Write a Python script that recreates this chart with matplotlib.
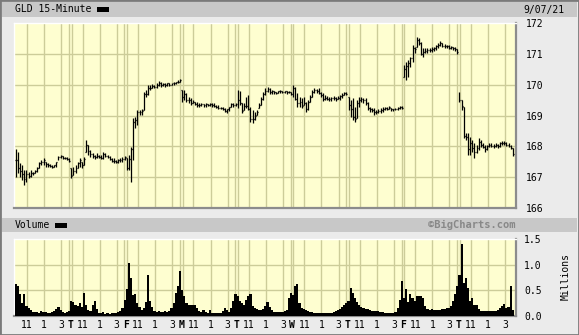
import numpy as np
import matplotlib.pyplot as plt
from matplotlib.patches import Rectangle

# 15-minute bars, 26 per session, Wed 8/25 .. Tue 9/07
high = [
    # Wed
    167.91, 167.83, 167.45, 167.40, 167.23, 167.23, 167.18, 167.23, 167.18, 167.23, 167.34, 167.50, 167.56,
    167.61, 167.50, 167.45, 167.43, 167.40, 167.40, 167.50, 167.69, 167.72, 167.69, 167.67, 167.64, 167.61,
    # Thu
    167.29, 167.34, 167.40, 167.50, 167.61, 167.50, 167.64, 168.21, 168.04, 167.88, 167.77, 167.72, 167.77,
    167.72, 167.72, 167.83, 167.77, 167.72, 167.69, 167.61, 167.61, 167.56, 167.58, 167.61, 167.64, 167.69,
    # Fri
    167.61, 167.72, 167.99, 168.91, 168.96, 169.18, 169.18, 169.20, 169.77, 169.83, 169.99, 169.99, 170.02,
    169.99, 170.04, 170.13, 170.10, 170.07, 170.07, 170.07, 170.04, 170.07, 170.10, 170.10, 170.15, 170.17,
    # Mon
    169.83, 169.83, 169.72, 169.61, 169.56, 169.50, 169.45, 169.45, 169.40, 169.40, 169.37, 169.40, 169.37,
    169.40, 169.42, 169.40, 169.34, 169.34, 169.29, 169.27, 169.23, 169.20, 169.29, 169.42, 169.40, 169.40,
    # Tue
    169.83, 169.81, 169.40, 169.40, 169.61, 169.67, 169.29, 169.18, 169.12, 169.18, 169.39, 169.61, 169.77,
    169.88, 169.94, 169.88, 169.83, 169.81, 169.77, 169.81, 169.83, 169.81, 169.81, 169.81, 169.80, 169.77,
    # Wed
    169.99, 169.94, 169.72, 169.61, 169.56, 169.61, 169.45, 169.50, 169.67, 169.83, 169.88, 169.85, 169.88,
    169.77, 169.72, 169.67, 169.63, 169.61, 169.61, 169.63, 169.61, 169.63, 169.67, 169.72, 169.77, 169.75,
    # Thu
    169.61, 169.50, 169.56, 169.29, 169.50, 169.61, 169.61, 169.56, 169.56, 169.45, 169.29, 169.23, 169.23,
    169.18, 169.20, 169.23, 169.29, 169.29, 169.27, 169.31, 169.23, 169.22, 169.25, 169.27, 169.31, 169.31,
    # Fri
    170.64, 170.75, 170.80, 170.91, 171.29, 171.23, 171.56, 171.50, 171.39, 171.18, 171.18, 171.18, 171.18,
    171.21, 171.23, 171.29, 171.34, 171.43, 171.34, 171.32, 171.29, 171.29, 171.25, 171.23, 171.23, 171.15,
    # Tue
    169.77, 169.50, 169.29, 168.42, 168.42, 168.31, 168.20, 168.10, 168.04, 168.26, 168.20, 168.10, 168.04,
    168.04, 168.10, 168.10, 168.08, 168.10, 168.08, 168.15, 168.18, 168.18, 168.15, 168.10, 168.04, 167.94,
]
low = [
    167.02, 167.13, 167.02, 166.91, 166.75, 166.85, 166.96, 167.02, 167.07, 167.13, 167.18, 167.29, 167.40,
    167.40, 167.34, 167.34, 167.32, 167.29, 167.32, 167.34, 167.56, 167.61, 167.58, 167.58, 167.56, 167.50,
    166.96, 167.07, 167.13, 167.29, 167.34, 167.29, 167.40, 167.83, 167.72, 167.67, 167.61, 167.58, 167.61,
    167.61, 167.58, 167.58, 167.64, 167.61, 167.56, 167.50, 167.47, 167.45, 167.45, 167.50, 167.50, 167.56,
    167.23, 167.23, 166.85, 167.56, 168.58, 168.69, 169.02, 169.02, 169.18, 169.61, 169.67, 169.83, 169.88,
    169.88, 169.88, 169.96, 169.94, 169.96, 169.94, 169.96, 169.96, 169.98, 169.99, 170.02, 170.04, 170.09,
    169.45, 169.50, 169.45, 169.40, 169.34, 169.40, 169.34, 169.29, 169.29, 169.31, 169.29, 169.29, 169.31,
    169.31, 169.29, 169.29, 169.23, 169.20, 169.20, 169.18, 169.12, 169.09, 169.16, 169.29, 169.29, 169.31,
    169.23, 169.34, 169.07, 169.18, 169.23, 169.18, 168.80, 168.75, 168.85, 169.02, 169.23, 169.34, 169.50,
    169.67, 169.77, 169.70, 169.70, 169.70, 169.70, 169.72, 169.72, 169.72, 169.72, 169.70, 169.72, 169.67,
    169.61, 169.50, 169.29, 169.29, 169.23, 169.34, 169.12, 169.18, 169.45, 169.61, 169.72, 169.72, 169.70,
    169.61, 169.48, 169.50, 169.50, 169.48, 169.48, 169.50, 169.48, 169.52, 169.50, 169.56, 169.67, 169.67,
    169.18, 168.96, 168.85, 168.80, 168.91, 169.29, 169.45, 169.39, 169.34, 169.18, 169.12, 169.12, 169.02,
    169.05, 169.07, 169.09, 169.12, 169.18, 169.18, 169.20, 169.15, 169.15, 169.17, 169.18, 169.22, 169.20,
    170.26, 170.15, 170.26, 170.58, 170.75, 171.02, 171.23, 171.29, 170.96, 170.91, 171.02, 171.04, 171.07,
    171.07, 171.10, 171.12, 171.18, 171.25, 171.21, 171.18, 171.18, 171.15, 171.15, 171.12, 171.10, 170.99,
    169.45, 169.18, 168.26, 168.20, 167.72, 167.72, 167.83, 167.61, 167.77, 167.88, 167.99, 167.94, 167.83,
    167.88, 167.97, 167.97, 167.94, 167.99, 167.94, 167.99, 168.04, 168.04, 168.01, 167.97, 167.90, 167.69,
]
close = [
    167.55, 167.30, 167.20, 167.10, 166.95, 167.10, 167.05, 167.15, 167.12, 167.20, 167.30, 167.45, 167.48,
    167.55, 167.42, 167.38, 167.36, 167.33, 167.38, 167.48, 167.66, 167.68, 167.63, 167.62, 167.58, 167.53,
    167.05, 167.20, 167.25, 167.45, 167.55, 167.40, 167.60, 168.05, 167.85, 167.75, 167.68, 167.65, 167.70,
    167.66, 167.62, 167.75, 167.70, 167.65, 167.60, 167.54, 167.52, 167.50, 167.55, 167.57, 167.60, 167.64,
    167.30, 167.60, 167.90, 168.80, 168.85, 169.10, 169.10, 169.15, 169.70, 169.70, 169.90, 169.90, 169.95,
    169.93, 169.98, 170.05, 170.00, 170.02, 170.00, 170.04, 170.00, 170.04, 170.06, 170.08, 170.10, 170.15,
    169.60, 169.70, 169.50, 169.50, 169.40, 169.45, 169.38, 169.33, 169.35, 169.36, 169.33, 169.36, 169.34,
    169.36, 169.33, 169.31, 169.27, 169.25, 169.23, 169.20, 169.16, 169.20, 169.27, 169.38, 169.34, 169.36,
    169.50, 169.40, 169.15, 169.30, 169.30, 169.20, 168.90, 168.90, 169.00, 169.10, 169.35, 169.55, 169.70,
    169.80, 169.85, 169.75, 169.78, 169.75, 169.74, 169.78, 169.80, 169.77, 169.78, 169.76, 169.77, 169.70,
    169.90, 169.55, 169.40, 169.45, 169.30, 169.40, 169.20, 169.45, 169.60, 169.75, 169.82, 169.80, 169.74,
    169.65, 169.55, 169.57, 169.55, 169.54, 169.57, 169.58, 169.54, 169.58, 169.62, 169.68, 169.72, 169.70,
    169.35, 169.20, 168.95, 168.90, 169.40, 169.50, 169.55, 169.50, 169.40, 169.25, 169.20, 169.18, 169.10,
    169.12, 169.15, 169.18, 169.20, 169.25, 169.22, 169.26, 169.20, 169.20, 169.22, 169.24, 169.28, 169.25,
    170.50, 170.60, 170.70, 170.85, 171.20, 171.15, 171.45, 171.35, 171.00, 171.05, 171.10, 171.12, 171.12,
    171.15, 171.18, 171.25, 171.28, 171.35, 171.27, 171.25, 171.24, 171.20, 171.22, 171.18, 171.15, 171.05,
    169.50, 169.30, 168.35, 168.30, 167.90, 168.10, 167.95, 167.80, 167.95, 168.15, 168.05, 167.98, 167.90,
    168.00, 168.05, 168.02, 168.00, 168.05, 168.02, 168.10, 168.12, 168.10, 168.05, 168.00, 167.95, 167.75,
]
# volume, millions
volume = [
    0.62, 0.58, 0.42, 0.25, 0.43, 0.20, 0.15, 0.12, 0.08, 0.07, 0.08, 0.06, 0.09,
    0.07, 0.08, 0.06, 0.05, 0.08, 0.10, 0.14, 0.18, 0.12, 0.07, 0.06, 0.08, 0.10,
    0.30, 0.28, 0.22, 0.20, 0.25, 0.18, 0.44, 0.22, 0.12, 0.10, 0.22, 0.30, 0.14,
    0.06, 0.05, 0.07, 0.04, 0.05, 0.04, 0.05, 0.06, 0.05, 0.08, 0.10, 0.15, 0.32,
    0.52, 1.03, 0.75, 0.40, 0.43, 0.25, 0.18, 0.12, 0.15, 0.28, 0.80, 0.30, 0.18,
    0.10, 0.08, 0.10, 0.08, 0.07, 0.09, 0.08, 0.10, 0.15, 0.25, 0.45, 0.58, 0.87,
    0.50, 0.38, 0.26, 0.22, 0.22, 0.22, 0.22, 0.15, 0.10, 0.08, 0.12, 0.07, 0.06,
    0.12, 0.05, 0.06, 0.05, 0.06, 0.05, 0.10, 0.15, 0.12, 0.08, 0.15, 0.30, 0.42,
    0.38, 0.30, 0.25, 0.22, 0.32, 0.38, 0.43, 0.20, 0.15, 0.13, 0.12, 0.12, 0.13,
    0.20, 0.27, 0.18, 0.12, 0.08, 0.08, 0.07, 0.07, 0.08, 0.09, 0.12, 0.35, 0.45,
    0.40, 0.58, 0.62, 0.25, 0.16, 0.13, 0.12, 0.10, 0.08, 0.07, 0.06, 0.06, 0.05,
    0.06, 0.06, 0.05, 0.05, 0.05, 0.06, 0.07, 0.09, 0.12, 0.14, 0.18, 0.22, 0.25,
    0.30, 0.55, 0.45, 0.35, 0.27, 0.22, 0.18, 0.16, 0.14, 0.13, 0.12, 0.10, 0.09,
    0.09, 0.10, 0.08, 0.07, 0.06, 0.05, 0.05, 0.05, 0.05, 0.08, 0.15, 0.32, 0.68,
    0.35, 0.52, 0.28, 0.42, 0.35, 0.30, 0.38, 0.38, 0.38, 0.35, 0.20, 0.14, 0.12,
    0.14, 0.12, 0.12, 0.12, 0.12, 0.14, 0.13, 0.15, 0.16, 0.20, 0.30, 0.42, 0.58,
    0.80, 1.41, 0.65, 0.75, 0.55, 0.30, 0.35, 0.22, 0.22, 0.13, 0.10, 0.09, 0.09,
    0.09, 0.09, 0.09, 0.10, 0.10, 0.12, 0.15, 0.20, 0.23, 0.15, 0.17, 0.58, 0.12,
]
day_letters = ["", "T", "F", "M", "T", "W", "T", "F", "T"]
hour_labels = ["11", "1", "3"]
price_ticks = [166, 167, 168, 169, 170, 171, 172]
vol_ticks = [0.0, 0.5, 1.0, 1.5]

bars_per_day = 26
high = np.array(high)
low = np.array(low)
close = np.array(close)
x = np.arange(len(close))
opn = np.clip(np.r_[close[0], close[:-1]], low, high)  # open = prior close

W, H = 579, 335
MONO = "DejaVu Sans Mono"
grid_c = "#cccc99"
face_c = "#fefed0"

fig = plt.figure(figsize=(W / 100, H / 100), dpi=100)
fig.patch.set_facecolor("#ebebeb")


def fx(px):
    return px / W


def fy(py):
    return 1 - py / H


# grey title strips
for y0, y1 in [(2, 17), (218, 232)]:
    fig.add_artist(Rectangle((fx(2), fy(y1)), fx(575), (y1 - y0) / H,
                             transform=fig.transFigure, facecolor="#c8c8c8", edgecolor="none"))

ax_p = fig.add_axes([fx(14), fy(208), 502 / W, 185 / H])
ax_v = fig.add_axes([fx(14), fy(316), 502 / W, 77 / H])

# vertical grid: 11, 1, 3 o'clock plus a double line at each session break
vlines = []
tick_pos, tick_lab = [], []
for d in range(9):
    base = d * bars_per_day
    if d > 0:
        vlines += [base - 1.15, base + 0.15]
        tick_pos.append(base - 0.5)
        tick_lab.append(day_letters[d])
    for k, off in enumerate([5.3, 13.3, 21.3]):
        vlines.append(base + off)
        tick_pos.append(base + off)
        tick_lab.append(hour_labels[k])

for ax in (ax_p, ax_v):
    ax.set_facecolor(face_c)
    ax.set_xlim(-0.85, 234.5)
    for v in vlines:
        ax.axvline(v, color=grid_c, lw=1.0, zorder=1)
    for side in ("top", "left"):
        ax.spines[side].set_color("white")
        ax.spines[side].set_linewidth(1)
    for side in ("bottom", "right"):
        ax.spines[side].set_color("#8c8c8c")
        ax.spines[side].set_linewidth(1.6)
    ax.yaxis.tick_right()

# price bars
for p in price_ticks[1:-1]:
    ax_p.axhline(p, color=grid_c, lw=1.0, zorder=1)
ax_p.vlines(x, low, high, color="black", lw=0.9, zorder=3)
ax_p.hlines(opn, x - 0.45, x, color="black", lw=0.9, zorder=3)
ax_p.hlines(close, x, x + 0.45, color="black", lw=0.9, zorder=3)
ax_p.set_ylim(166, 172)
ax_p.set_yticks(price_ticks)
ax_p.set_yticklabels([str(p) for p in price_ticks], family=MONO, fontsize=7)
ax_p.tick_params(axis="y", length=0, pad=7)
ax_p.set_xticks([])

# volume
for v in vol_ticks[1:-1]:
    ax_v.axhline(v, color=grid_c, lw=1.0, zorder=1)
ax_v.bar(x, volume, width=1.0, color="black", linewidth=0, zorder=3)
ax_v.set_ylim(0, 1.5)
ax_v.set_yticks(vol_ticks)
ax_v.set_yticklabels(["%.1f" % v for v in vol_ticks], family=MONO, fontsize=7)
ax_v.tick_params(axis="y", length=0, pad=6)
ax_v.set_xticks(tick_pos)
ax_v.set_xticklabels(tick_lab, family=MONO, fontsize=7)
ax_v.tick_params(axis="x", length=0, pad=3)
for lbl in ax_v.get_xticklabels():
    if lbl.get_text().isalpha():
        lbl.set_fontweight("bold")

# strip texts
fig.text(fx(15), fy(9.5), "GLD 15-Minute", family=MONO, fontsize=7, va="center", ha="left")
fig.add_artist(Rectangle((fx(97), fy(12)), 12 / W, 5 / H, transform=fig.transFigure,
                         facecolor="black", edgecolor="none"))
fig.text(fx(565), fy(9.5), "9/07/21", family=MONO, fontsize=7, va="center", ha="right")
fig.text(fx(15), fy(225), "Volume", family=MONO, fontsize=7, va="center", ha="left")
fig.add_artist(Rectangle((fx(55), fy(227.5)), 12 / W, 5 / H, transform=fig.transFigure,
                         facecolor="black", edgecolor="none"))
fig.text(fx(515), fy(225), "\u00a9BigCharts.com", family=MONO, fontsize=7.5, fontweight="bold",
         color="#888888", va="center", ha="right")
fig.text(fx(566), fy(276), "Millions", family=MONO, fontsize=7, rotation=90,
         va="center", ha="center")

fig.add_artist(Rectangle((0, 0), 1, 1, transform=fig.transFigure, fill=False,
                         edgecolor="#7a7a7a", lw=2))

fig.savefig("out.png", dpi=100, facecolor=fig.get_facecolor())
